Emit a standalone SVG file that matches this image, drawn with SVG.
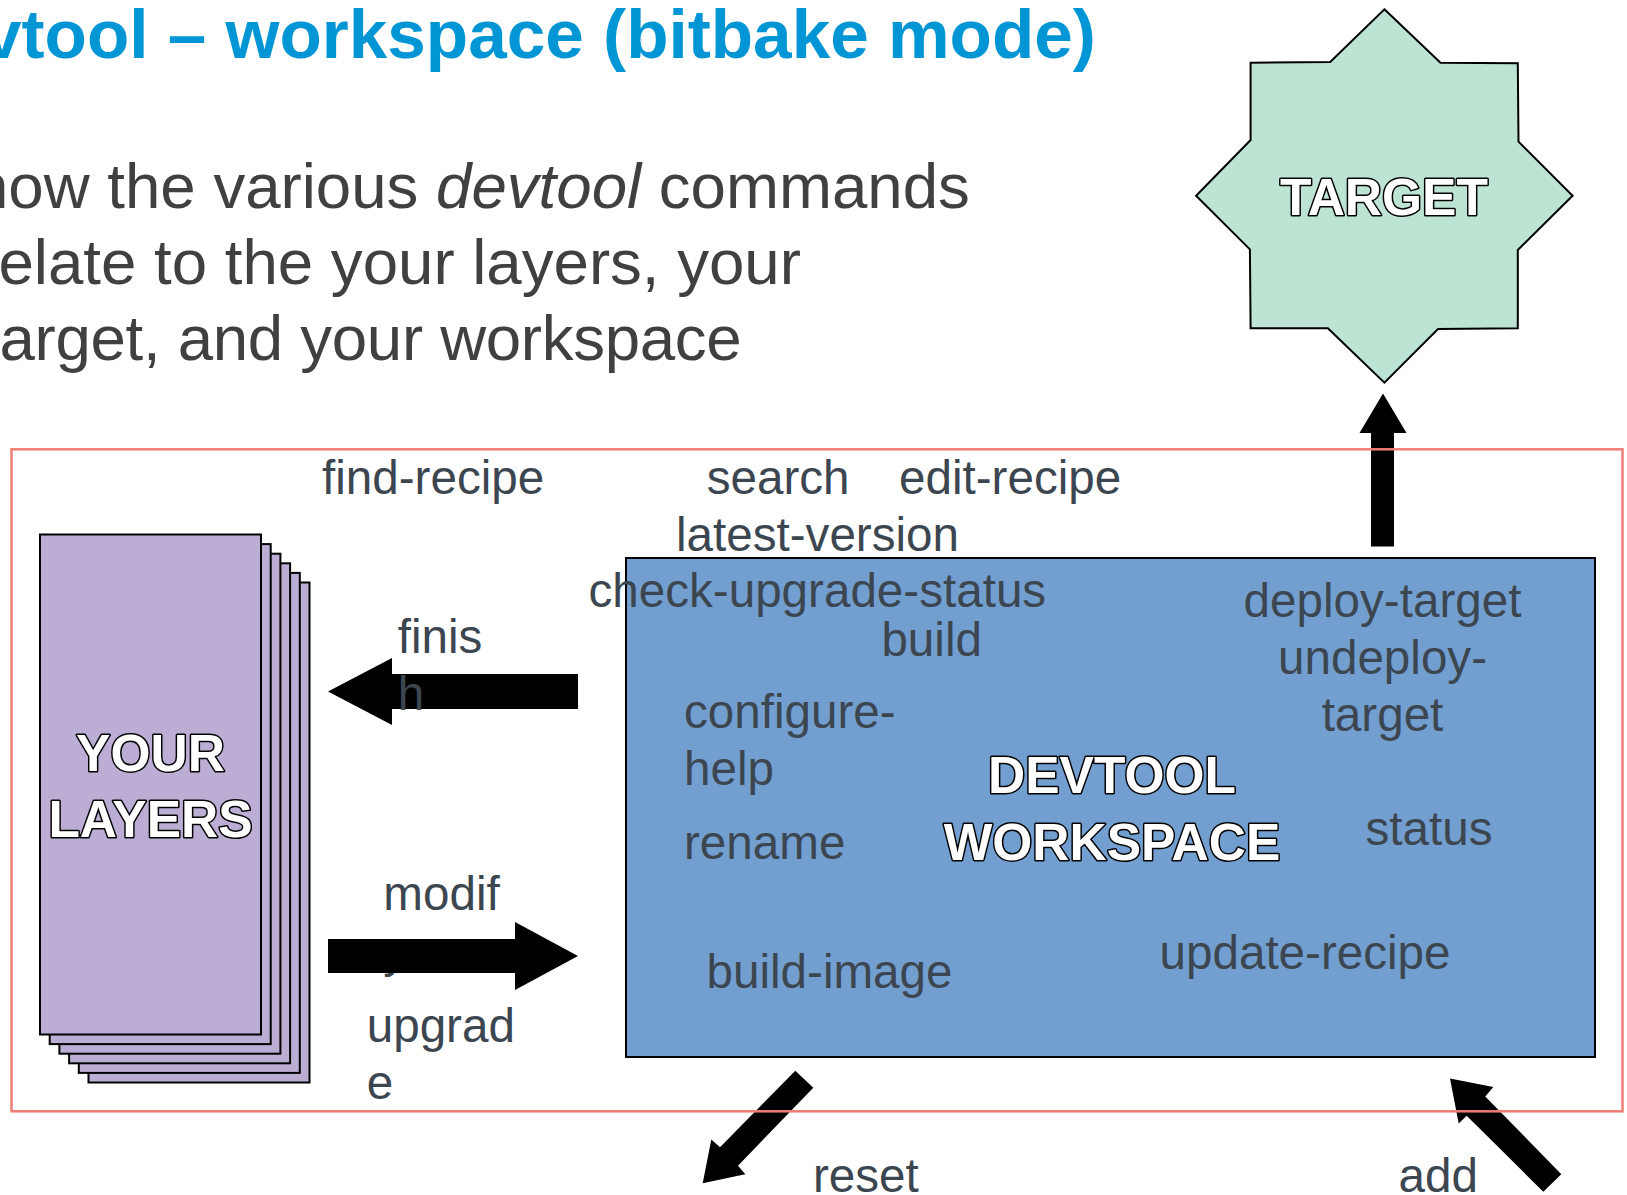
<svg xmlns="http://www.w3.org/2000/svg" width="1627" height="1195" viewBox="0 0 1627 1195">
<style>
text{font-family:"Liberation Sans",Arial,sans-serif}
.title{font-size:69.3px;font-weight:bold;fill:#0096D6}
.body{font-size:63.6px;fill:#404040}
.lbl{font-size:47.6px;fill:#3C4650}
.outline{font-weight:bold;font-size:51.5px;fill:#fff;stroke:#000;stroke-width:3;paint-order:stroke;stroke-linejoin:round;text-anchor:middle}
.layer{fill:#BCADD4;stroke:#000;stroke-width:2}
.arrow{fill:#000}
</style>
<rect width="1627" height="1195" fill="#fff"/>
<g id="title">
<text class="title" x="-17" y="58">vtool – workspace (bitbake mode)</text>
</g>
<g id="intro">
<text class="body" x="-27" y="207.5">how the various <tspan font-style="italic">devtool</tspan> commands</text>
<text class="body" x="-1.5" y="283.5">elate to the your layers, your</text>
<text class="body" x="-0.5" y="359.5" letter-spacing="-0.3">arget, and your workspace</text>
</g>
<g id="target">
<polygon points="1384.4,9.3 1440.5,62.7 1517.8,63.3 1518.5,141.7 1572.6,195.7 1517.8,250 1517.8,328.3 1438,329 1384.4,382.7 1327.9,328.3 1250.6,328.3 1249.9,249.3 1196.1,195.7 1250.6,140 1250.6,62.7 1330.2,62" fill="#BDE3D3" stroke="#000" stroke-width="2"/>
<text class="outline" x="1384" y="215" font-size="52">TARGET</text>
</g>
<g id="your-layers">
<rect class="layer" x="88.5" y="582.5" width="221" height="500"/>
<rect class="layer" x="78.8" y="572.9" width="221" height="500"/>
<rect class="layer" x="69.1" y="563.3" width="221" height="500"/>
<rect class="layer" x="59.4" y="553.7" width="221" height="500"/>
<rect class="layer" x="49.7" y="544.1" width="221" height="500"/>
<rect class="layer" x="40" y="534.5" width="221" height="500"/>
<text class="outline" x="150.5" y="771">YOUR</text>
<text class="outline" x="150.5" y="837">LAYERS</text>
</g>
<g id="devtool-workspace">
<rect x="626" y="558" width="969" height="499" fill="#729FCF" stroke="#000" stroke-width="2"/>
<text class="outline" x="1112" y="793" font-size="52.5">DEVTOOL</text>
<text class="outline" x="1112" y="860" font-size="52">WORKSPACE</text>
</g>
<g id="labels">
<text class="lbl" x="322" y="493.5">find-recipe</text>
<text class="lbl" x="706.7" y="493.5">search</text>
<text class="lbl" x="899" y="493.5">edit-recipe</text>
<text class="lbl" x="676" y="551">latest-version</text>
<text class="lbl" x="588.5" y="606.7">check-upgrade-status</text>
<text class="lbl" x="881.4" y="655.5">build</text>
<text class="lbl" x="684" y="727.5">configure-</text>
<text class="lbl" x="684" y="784.6">help</text>
<text class="lbl" x="684" y="859">rename</text>
<text class="lbl" x="706.5" y="988">build-image</text>
<text class="lbl" x="1159.5" y="969">update-recipe</text>
<text class="lbl" x="1382.5" y="616.5" text-anchor="middle">deploy-target</text>
<text class="lbl" x="1382.5" y="674" text-anchor="middle">undeploy-</text>
<text class="lbl" x="1382.5" y="730.5" text-anchor="middle">target</text>
<text class="lbl" x="1365.5" y="845">status</text>
<text class="lbl" x="383.3" y="910"><tspan x="383.3">modif</tspan><tspan x="383.3" dy="57">y</tspan></text>
<text class="lbl" x="366.7" y="1041.5"><tspan x="366.7">upgrad</tspan><tspan x="366.7" dy="57">e</tspan></text>
<text class="lbl" x="813" y="1191.5">reset</text>
<text class="lbl" x="1398.5" y="1191.5">add</text>
</g>
<g id="connectors">
<polygon class="arrow" points="1383,393.5 1406.5,433 1394,433 1394,546.5 1371,546.5 1371,433 1359.5,433"/>
<polygon class="arrow" points="328,691.5 392,658 392,674 578,674 578,709 392,709 392,725"/>
<polygon class="arrow" points="328,939 515,939 515,922 578,956 515,990 515,973 328,973"/>
<polygon class="arrow" points="795.3,1070.8 813.3,1087.7 738,1165.7 745.3,1174.2 702.7,1183.3 711.3,1139.4 720,1147.2"/>
<polygon class="arrow" points="1450,1078.6 1493.3,1087 1485.3,1096.5 1561.3,1174.2 1543.3,1191.8 1466.7,1115.7 1458.7,1123.5"/>
</g>
<g id="finish-label">
<text class="lbl" x="397.7" y="652.5"><tspan x="397.7">finis</tspan><tspan x="397.7" dy="57">h</tspan></text>
</g>
<g id="frame">
<rect x="11.5" y="449.3" width="1611" height="662" fill="none" stroke="#F07D75" stroke-width="2.5"/>
</g>
</svg>
